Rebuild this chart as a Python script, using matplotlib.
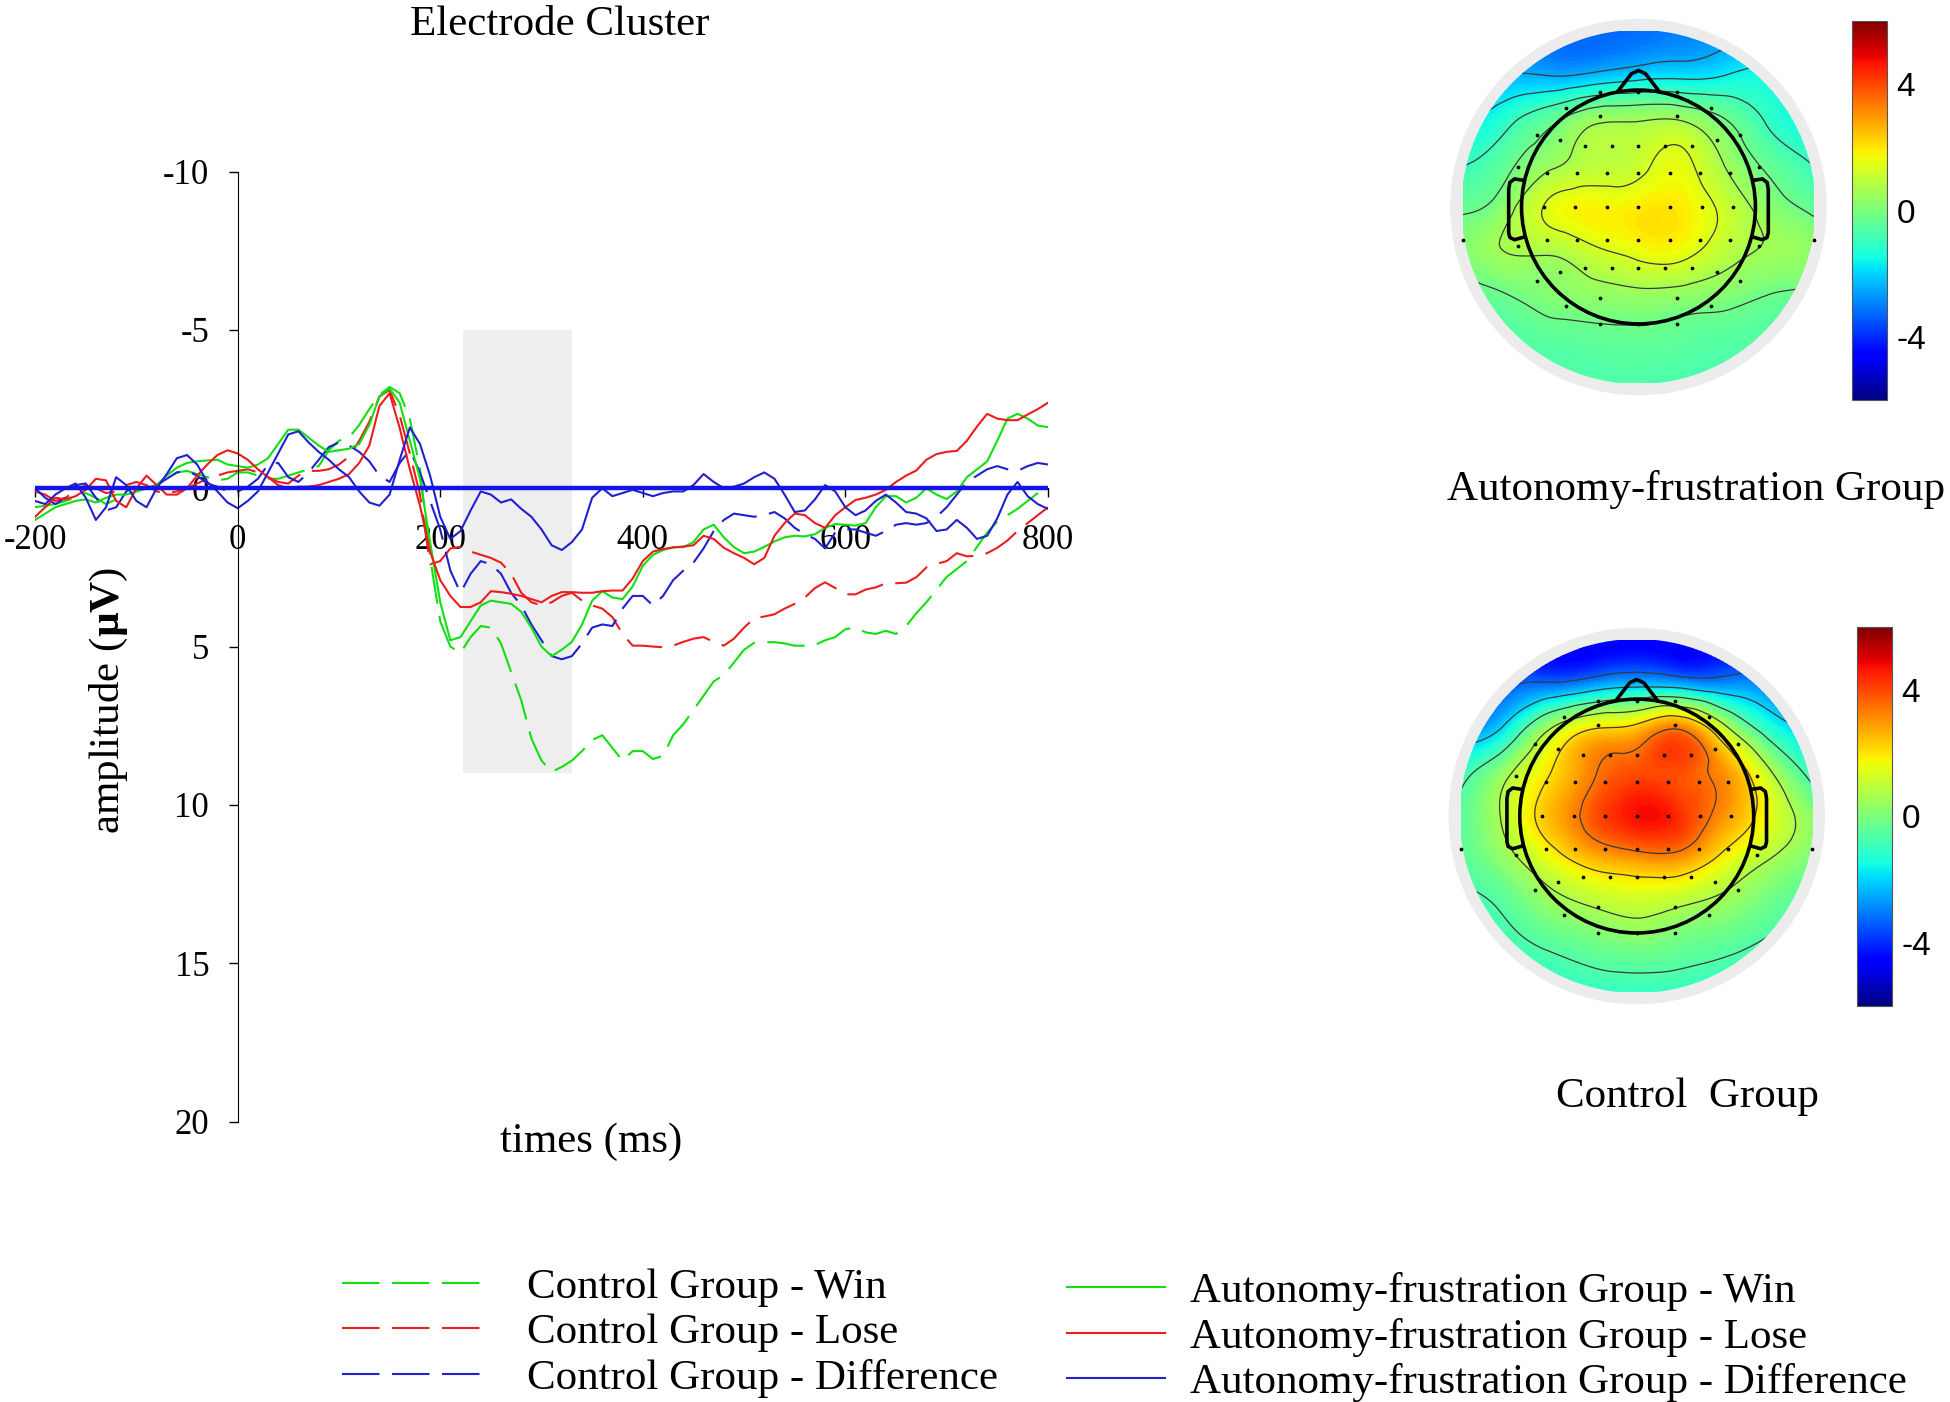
import numpy as np
import matplotlib
matplotlib.use("Agg")
import matplotlib.pyplot as plt
import matplotlib.tri as mtri
from matplotlib.patches import Circle, Rectangle
from matplotlib.colors import Normalize
from matplotlib.cm import ScalarMappable

plt.rcParams['font.family'] = ['Liberation Serif', 'DejaVu Serif']
plt.rcParams['axes.unicode_minus'] = False
plt.rcParams['mathtext.fontset'] = 'custom'
plt.rcParams['mathtext.rm'] = 'Liberation Serif'
plt.rcParams['mathtext.bf'] = 'Liberation Serif:bold'

# ---------------------------------------------------------------- ERP data
times = np.arange(-200, 801, 10)

ctrl_win = [0.6, 0.55, 0.5, 0.4, 0.3, 0.15, 0.3, 0.5, 0.35, 0.2,
            0.1, 0.0, -0.1, -0.3, -0.5, -0.55, -0.45, -0.35, -0.25, -0.3,
            -0.5, -0.5, -0.4, -0.3, -0.3, -0.4, -0.5, -0.6, -0.7, -1.2,
            -1.5, -1.6, -2.0, -2.5, -2.95, -3.2, -3.0, -2.2, -0.6, 2.2,
            4.2, 5.0, 5.2, 4.7, 4.35, 4.4, 4.9, 5.8, 6.7, 7.9,
            8.6, 8.95, 8.8, 8.6, 8.3, 7.95, 7.8, 8.2, 8.6, 8.3,
            8.3, 8.55, 8.45, 7.8, 7.45, 7.0, 6.55, 6.1, 5.9, 5.5,
            5.1, 4.88, 4.86, 4.86, 4.9, 4.97, 4.97, 4.95, 4.8, 4.7,
            4.45, 4.4, 4.55, 4.6, 4.5, 4.6, 4.35, 3.95, 3.6, 3.2,
            2.8, 2.55, 2.3, 1.85, 1.4, 1.05, 0.85, 0.65, 0.4, 0.15,
            -0.1]

ctrl_lose = [0.1, 0.2, 0.4, 0.3, 0.1, -0.1, 0.0, 0.15, 0.1, -0.1,
             -0.2, -0.1, 0.1, 0.15, 0.1, 0.0, -0.15, -0.3, -0.4, -0.5,
             -0.55, -0.6, -0.5, -0.35, -0.2, -0.15, -0.4, -0.55, -0.55, -0.6,
             -0.75, -1.0, -1.5, -2.1, -2.9, -3.1, -2.3, -1.1, 0.2, 2.4,
             2.3, 1.9, 1.85, 2.0, 2.1, 2.2, 2.35, 2.7, 3.3, 3.6,
             3.7, 3.6, 3.4, 3.3, 3.55, 3.7, 3.8, 4.07, 4.6, 4.97,
             4.97, 5.0, 5.02, 4.97, 4.85, 4.75, 4.7, 4.85, 4.97, 4.75,
             4.4, 4.1, 4.05, 3.98, 3.8, 3.65, 3.45, 3.15, 2.97, 3.15,
             3.35, 3.35, 3.2, 3.13, 3.0, 3.0, 2.98, 2.81, 2.5, 2.39,
             2.3, 2.05, 2.15, 2.13, 2.05, 1.88, 1.65, 1.35, 1.1, 0.85,
             0.6]

ctrl_diff = [0.0, 0.3, 0.5, 0.3, -0.1, -0.15, 0.3, 0.7, 0.6, 0.1,
             -0.1, 0.0, -0.1, -0.3, -0.5, -0.55, -0.4, -0.15, -0.05, 0.1,
             0.1, -0.05, -0.3, -0.75, -0.8, -0.35, -0.2, -0.5, -0.9, -1.3,
             -1.45, -1.35, -1.15, -0.85, -0.4, -0.2, -0.8, -1.2, -0.5, 0.4,
             1.3, 2.6, 3.3, 2.7, 2.3, 2.4, 2.7, 3.3, 3.7, 4.3,
             4.8, 5.3, 5.4, 5.3, 4.9, 4.4, 4.3, 4.35, 3.8, 3.4,
             3.4, 3.7, 3.4, 2.9, 2.6, 2.35, 1.9, 1.35, 1.0, 0.8,
             0.85, 0.9, 0.85, 0.75, 0.95, 1.25, 1.45, 1.6, 1.9, 1.4,
             1.3, 1.3, 1.4, 1.5, 1.35, 1.15, 1.1, 1.15, 1.1, 0.9,
             0.6, 0.2, -0.2, -0.4, -0.6, -0.7, -0.6, -0.55, -0.7, -0.8,
             -0.75]

af_win = [1.0, 0.8, 0.6, 0.5, 0.4, 0.35, 0.45, 0.3, 0.2, 0.2,
          0.1, 0.0, -0.1, -0.4, -0.65, -0.8, -0.85, -0.88, -0.9, -0.75,
          -0.7, -0.65, -0.75, -0.95, -1.4, -1.85, -1.85, -1.6, -1.35, -1.15,
          -1.2, -1.25, -1.4, -2.0, -2.9, -3.15, -2.7, -1.5, -0.3, 1.7,
          3.6, 4.8, 4.7, 4.2, 3.7, 3.55, 3.6, 3.65, 3.9, 4.4,
          5.0, 5.3, 5.1, 4.85, 4.3, 3.55, 3.25, 3.45, 3.5, 3.1,
          2.45, 2.1, 1.95, 1.86, 1.86, 1.7, 1.3, 1.15, 1.55, 1.86,
          2.05, 2.0, 1.85, 1.68, 1.55, 1.5, 1.52, 1.45, 1.25, 1.13,
          1.15, 1.18, 1.1, 0.6, 0.25, 0.25, 0.45, 0.3, 0.0, 0.2,
          0.34, 0.1, -0.35, -0.6, -0.85, -1.5, -2.2, -2.35, -2.2, -1.98,
          -1.93]

af_lose = [0.9, 0.6, 0.3, 0.35, 0.25, 0.05, -0.3, -0.25, 0.4, 0.6,
           0.0, -0.4, -0.1, 0.2, 0.2, 0.0, -0.4, -0.75, -1.05, -1.2,
           -1.1, -0.9, -0.6, -0.35, -0.1, 0.0, -0.05, -0.05, -0.1, -0.2,
           -0.3, -0.45, -0.8, -1.35, -2.6, -3.0, -1.9, -0.6, 0.55, 2.0,
           2.9, 3.4, 3.75, 3.75, 3.6, 3.25, 3.28, 3.33, 3.4, 3.5,
           3.6, 3.4, 3.28, 3.28, 3.3, 3.3, 3.25, 3.23, 3.23, 2.85,
           2.3, 2.0, 1.92, 1.87, 1.84, 1.8, 1.5, 1.6, 1.88, 2.05,
           2.2, 2.4, 2.2, 1.5, 1.1, 0.8, 0.85, 1.1, 1.25, 0.85,
           0.6, 0.37, 0.3, 0.2, 0.05, -0.2, -0.4, -0.56, -0.9, -1.08,
           -1.15, -1.18, -1.5, -1.95, -2.35, -2.2, -2.15, -2.15, -2.33, -2.5,
           -2.7]

af_diff = [0.4, 0.5, 0.2, 0.0, -0.15, 0.3, 1.0, 0.6, -0.35, -0.1,
           0.4, 0.6, 0.0, -0.45, -0.95, -1.05, -0.75, -0.2, 0.1, 0.45,
           0.63, 0.4, 0.1, -0.5, -1.1, -1.7, -1.8, -1.45, -1.15, -0.9,
           -0.6, -0.35, 0.1, 0.45, 0.55, 0.2, -0.9, -1.92, -1.4, -0.4,
           0.9, 1.6, 1.35, 0.7, 0.1, 0.2, 0.45, 0.35, 0.65, 0.9,
           1.3, 1.8, 1.95, 1.7, 1.3, 0.3, 0.0, 0.25, 0.15, 0.05,
           0.15, 0.25, 0.15, 0.1, 0.1, -0.1, -0.45, -0.2, 0.0, -0.05,
           -0.15, -0.35, -0.5, -0.3, 0.2, 0.75, 0.7, 0.35, -0.1, 0.1,
           0.6, 0.85, 0.7, 0.4, 0.2, 0.45, 0.75, 0.8, 0.95, 1.35,
           1.3, 1.0, 1.25, 1.6, 1.5, 0.95, 0.2, -0.2, 0.25, 0.5,
           0.65]

window_ms = [222, 330]
window_uv = [-5, 9]

labels_ctrl = ['Control Group - Win', 'Control Group - Lose', 'Control Group - Difference']
labels_af = ['Autonomy-frustration Group - Win', 'Autonomy-frustration Group - Lose',
             'Autonomy-frustration Group - Difference']

# ---------------------------------------------------------------- topo data
# grid in head radii, rows from front (nose) to back
grid_pos = [-1.5, -1.125, -0.75, -0.375, 0.0, 0.375, 0.75, 1.125, 1.5]

topo_af = [
    [-2.6, -2.9, -3.1, -3.2, -3.2, -3.0, -2.8, -2.5, -2.2],
    [-2.2, -2.4, -2.5, -2.3, -2.0, -1.9, -1.7, -1.5, -1.4],
    [-1.8, -1.2, -0.4, 0.4, 0.5, 0.5, -0.2, -1.1, -1.6],
    [-1.0, -0.4, 0.4, 0.9, 1.1, 1.5, 0.5, -0.4, -1.0],
    [-0.3, 0.3, 1.5, 1.8, 1.9, 1.9, 1.1, 0.2, -0.4],
    [0.0, 0.6, 0.7, 1.2, 1.6, 1.6, 0.9, 0.5, 0.3],
    [-0.4, -0.2, 0.1, 0.3, 0.4, 0.3, 0.1, -0.2, -0.4],
    [-0.7, -0.6, -0.5, -0.4, -0.35, -0.45, -0.55, -0.6, -0.7],
    [-0.9, -0.8, -0.8, -0.7, -0.7, -0.75, -0.8, -0.85, -0.9],
]

topo_ctrl = [
    [-3.9, -4.3, -4.6, -4.7, -4.7, -4.7, -4.6, -4.3, -3.9],
    [-3.8, -3.5, -3.2, -2.7, -2.3, -2.5, -2.8, -3.0, -3.4],
    [-2.8, -1.8, 0.6, 2.0, 2.4, 3.3, 1.0, -1.2, -2.0],
    [-1.0, 0.4, 2.0, 3.3, 3.9, 3.9, 3.0, 0.9, -1.0],
    [-0.5, 0.9, 2.5, 3.8, 4.7, 4.3, 3.0, 1.6, 0.2],
    [-0.5, 0.3, 1.5, 2.5, 2.9, 2.9, 1.7, 0.7, 0.0],
    [-0.8, -0.5, 0.3, 0.8, 1.1, 0.8, 0.4, -0.2, -0.6],
    [-1.0, -0.9, -0.6, -0.3, -0.1, -0.3, -0.5, -0.8, -1.0],
    [-1.3, -1.2, -1.1, -1.0, -1.0, -1.0, -1.1, -1.2, -1.3],
]

elec_x = [-0.33, 0.0, 0.33, -0.62, 0.62, -0.33, 0.33, -0.87, 0.87, -0.67, 0.67,
          -0.46, -0.23, 0.0, 0.23, 0.46, -1.03, 1.03,
          -0.78, -0.53, -0.27, 0.0, 0.27, 0.53, 0.78,
          -0.81, -0.54, -0.27, 0.0, 0.27, 0.54, 0.81,
          -1.5, 1.5, -0.78, -0.53, -0.27, 0.0, 0.27, 0.53, 0.78,
          -1.03, 1.03, -0.46, -0.23, 0.0, 0.23, 0.46, -0.67, 0.67,
          -0.87, 0.87, -0.33, 0.33, -0.62, 0.62, -0.33, 0.0, 0.33]
elec_y = [0.98, 0.98, 0.98, 0.85, 0.85, 0.78, 0.78, 0.62, 0.62, 0.57, 0.57,
          0.52, 0.52, 0.52, 0.52, 0.52, 0.34, 0.34,
          0.29, 0.29, 0.29, 0.29, 0.29, 0.29, 0.29,
          0.0, 0.0, 0.0, 0.0, 0.0, 0.0, 0.0,
          -0.28, -0.28, -0.28, -0.28, -0.28, -0.28, -0.28, -0.28, -0.28,
          -0.33, -0.33, -0.52, -0.52, -0.52, -0.52, -0.52, -0.56, -0.56,
          -0.63, -0.63, -0.78, -0.78, -0.85, -0.85, -1.0, -1.0, -1.0]

cbar_ticks = [-4, 0, 4]

GREEN = '#10e010'
RED = '#ee1c1c'
BLUE = '#2020d0'
DASH = (0, (18, 6))

# ================================================================ figure
fig = plt.figure(figsize=(19.5, 14.02), dpi=100)

ax = fig.add_axes([0.018, 0.200, 0.5194, 0.6776])
ax.add_patch(Rectangle((window_ms[0], window_uv[0]), window_ms[1] - window_ms[0],
                       window_uv[1] - window_uv[0], color='#eeeeee', lw=0, zorder=0.5))

h1, = ax.plot(times, ctrl_win, color=GREEN, lw=1.5, ls=DASH, label=labels_ctrl[0])
h2, = ax.plot(times, ctrl_lose, color=RED, lw=1.5, ls=DASH, label=labels_ctrl[1])
h3, = ax.plot(times, ctrl_diff, color=BLUE, lw=1.5, ls=DASH, label=labels_ctrl[2])
h4, = ax.plot(times, af_win, color=GREEN, lw=1.5, label=labels_af[0])
h5, = ax.plot(times, af_lose, color=RED, lw=1.5, label=labels_af[1])
h6, = ax.plot(times, af_diff, color=BLUE, lw=1.5, label=labels_af[2])
ax.axhline(0, color='#1414e6', lw=3.2, zorder=3)

ax.set_xlim(-200, 800)
ax.set_ylim(20, -10)
ax.set_xticks([-200, 0, 200, 400, 600, 800])
ax.set_yticks([-10, -5, 0, 5, 10, 15, 20])
ax.spines['left'].set_position(('data', 0))
ax.spines['bottom'].set_position(('data', 0))
ax.spines['top'].set_visible(False)
ax.spines['right'].set_visible(False)
ax.patch.set_alpha(0)
ax.tick_params(axis='y', direction='out', length=6.5, width=1, pad=14, labelsize=25)
ax.tick_params(axis='x', direction='out', length=6.5, width=1, pad=19, labelsize=25)

fig.text(0.287, 0.982, 'Electrode Cluster', ha='center', va='center', fontsize=31)
fig.text(0.303, 0.1855, 'times (ms)', ha='center', va='center', fontsize=31)
fig.text(0.056, 0.5007, 'amplitude ($\\mathbf{µV}$)', ha='center', va='center',
         rotation=90, fontsize=31)

fig.legend(handles=[h1, h2, h3], loc='upper left', bbox_to_anchor=(0.1754, 0.0955),
           frameon=False, fontsize=31, handlelength=3.2, handletextpad=1.1,
           labelspacing=0.14, borderpad=0, borderaxespad=0)
fig.legend(handles=[h4, h5, h6], loc='upper left', bbox_to_anchor=(0.5472, 0.0925),
           frameon=False, fontsize=31, handlelength=2.28, handletextpad=0.58,
           labelspacing=0.14, borderpad=0, borderaxespad=0)


def draw_topo(rect, cbar_rect, values, title, title_xy):
    tax = fig.add_axes(rect)
    tax.set_xlim(-1.65, 1.65)
    tax.set_ylim(-1.65, 1.65)
    tax.set_aspect('equal')
    tax.axis('off')
    tax.add_patch(Circle((0, 0), 1.61, color='#ececec', lw=0, zorder=0))

    gx, gy = np.meshgrid(grid_pos, grid_pos[::-1])
    tri = mtri.Triangulation(gx.ravel(), gy.ravel())
    tri_f, z_f = mtri.UniformTriRefiner(tri).refine_field(np.array(values).ravel(), subdiv=4)
    disk = Circle((0, 0), 1.514, transform=tax.transData)
    cf = tax.tricontourf(tri_f, z_f, levels=np.linspace(-6, 6, 121), cmap='jet',
                         vmin=-6, vmax=6, zorder=1)
    cf.set_clip_path(disk)
    lv = np.linspace(z_f.min(), z_f.max(), 8)[1:-1]
    cl = tax.tricontour(tri_f, z_f, levels=lv, colors='#3a3a3a', linewidths=0.9,
                        linestyles='solid', zorder=2)
    cl.set_clip_path(disk)

    tax.plot(elec_x, elec_y, 'o', color='k', ms=1.7, zorder=3)
    tax.add_patch(Circle((0, 0), 1.0, fill=False, ec='k', lw=2.6, zorder=4))
    tax.plot([-0.18, -0.06, 0, 0.06, 0.18], [0.985, 1.14, 1.167, 1.14, 0.985],
             color='k', lw=2.6, zorder=4, solid_capstyle='round')
    ear_x = [0.995, 1.06, 1.1, 1.11, 1.11, 1.1, 1.06, 0.99]
    ear_y = [0.23, 0.24, 0.21, 0.15, -0.22, -0.26, -0.28, -0.26]
    tax.plot(ear_x, ear_y, color='k', lw=2.6, zorder=4)
    tax.plot([-v for v in ear_x], ear_y, color='k', lw=2.6, zorder=4)

    cax = fig.add_axes(cbar_rect)
    cb = fig.colorbar(ScalarMappable(Normalize(-6, 6), 'jet'), cax=cax, ticks=cbar_ticks)
    cb.ax.tick_params(length=0, labelsize=24, pad=7)
    for lab in cax.get_yticklabels():
        lab.set_fontfamily('Liberation Sans')
    cb.outline.set_edgecolor('#555555')
    cb.outline.set_linewidth(0.8)

    fig.text(title_xy[0], title_xy[1], title, ha='center', va='center', fontsize=31)


draw_topo([0.7413, 0.7147, 0.1979, 0.2753], [0.9497, 0.7147, 0.0179, 0.2703],
          topo_af, 'Autonomy-frustration Group', (0.8697, 0.6512))
draw_topo([0.7404, 0.2803, 0.1979, 0.2753], [0.9523, 0.2825, 0.0179, 0.2703],
          topo_ctrl, 'Control  Group', (0.8656, 0.2175))

fig.savefig('out.png', dpi=100)
